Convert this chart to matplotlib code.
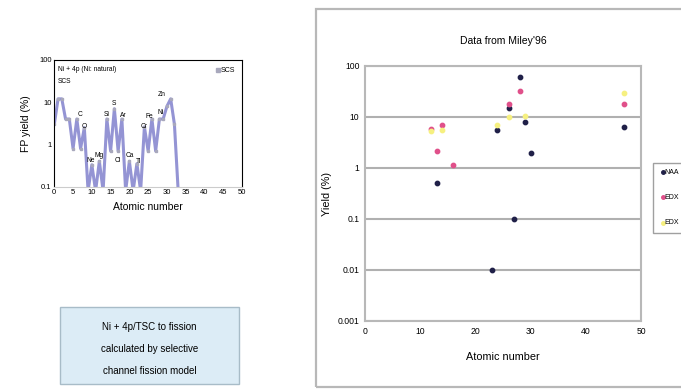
import numpy as np
import matplotlib
matplotlib.use('Agg')
import matplotlib.pyplot as plt
from matplotlib.patches import Rectangle
from matplotlib import rcParams
rcParams['font.family'] = 'Liberation Sans'

# left panel: SCS calculation (Ni + 4p)
scs_z = list(range(0, 34))
scs_y = [3, 12, 12, 4, 4, 0.8, 4, 0.8, 2.5, 0.08,
         0.33, 0.08, 0.4, 0.08, 4, 0.7, 7, 0.7, 4, 0.08,
         0.4, 0.08, 0.35, 0.08, 2.6, 0.7, 4, 0.7, 4, 4,
         8, 12, 3, 0.08]
el_names = ['C', 'O', 'Ne', 'Mg', 'Si', 'S', 'Ar', 'Cl', 'Ca', 'Ti', 'Cr', 'Fe', 'Ni', 'Zn']
el_x = [6.8, 8.0, 9.7, 11.9, 14.0, 16.0, 18.5, 17.0, 20.2, 22.5, 23.8, 25.2, 28.2, 28.5]
el_y = [5.0, 2.7, 0.41, 0.56, 5.1, 9.2, 4.9, 0.42, 0.54, 0.40, 2.7, 4.7, 5.7, 15]

# right panel: Miley'96 data
naa_z = [13, 23, 24, 26, 27, 28, 29, 30, 47]
naa_y = [0.5, 0.01, 5.5, 15, 0.1, 62, 8, 2, 6.5]
edx1_z = [12, 13, 14, 16, 26, 28, 47]
edx1_y = [5.8, 2.2, 7, 1.15, 18, 32, 18]
edx2_z = [12, 14, 24, 26, 29, 47]
edx2_y = [5.2, 5.5, 7, 10, 10.7, 30]

W, H = 681, 390
fig = plt.figure(figsize=(W / 100, H / 100), dpi=100)

def px(x0, y0, x1, y1):
    return [x0 / W, 1 - y1 / H, (x1 - x0) / W, (y1 - y0) / H]

# ---- left chart
ax1 = fig.add_axes(px(54.3, 60, 242, 186.7))
ax1.plot(scs_z, scs_y, '-s', color='#9494d4', lw=2.2, ms=1.8,
         mfc='#a8a8bc', mec='#a8a8bc', label='SCS')
ax1.set_yscale('log')
ax1.set_ylim(0.1, 100)
ax1.set_xlim(0, 50)
ax1.set_xticks(range(0, 51, 5))
ax1.set_yticks([0.1, 1, 10, 100])
ax1.set_yticklabels(['0.1', '1', '10', '100'])
ax1.minorticks_off()
ax1.tick_params(labelsize=5.5, length=0, pad=2)
for s in ax1.spines.values():
    s.set_linewidth(0.8)
ax1.spines['bottom'].set_color('#cccccc')
ax1.set_ylabel('FP yield (%)', fontsize=7.5, labelpad=6)
ax1.set_xlabel('Atomic number', fontsize=7.5, labelpad=4)
ax1.text(0.02, 0.95, 'Ni + 4p (Ni: natural)', transform=ax1.transAxes,
         fontsize=4.8, va='top')
ax1.text(0.02, 0.86, 'SCS', transform=ax1.transAxes, fontsize=4.8, va='top')
for n, x, y in zip(el_names, el_x, el_y):
    ax1.text(x, y, n, fontsize=4.8, ha='center', va='center')
leg1 = ax1.legend(loc='upper right', fontsize=5, frameon=False, handlelength=0.6,
                  handletextpad=0.1, borderaxespad=0.6, markerscale=1.6)
leg1.get_lines()[0].set_linestyle('none')

# ---- text box
fig.patches.append(Rectangle((60 / W, 1 - 384 / H), 179 / W, 77 / H,
                             transform=fig.transFigure, fc='#dcecf6',
                             ec='#a8bcc8', lw=1))
for txt, y in zip(['Ni + 4p/TSC to fission', 'calculated by selective',
                   'channel fission model'], [327, 349, 371]):
    fig.text(149.5 / W, 1 - y / H, txt, fontsize=7, ha='center', va='center')

# ---- right chart frame
fig.patches.append(Rectangle((316 / W, 1 - 387 / H), 380 / W, 378 / H,
                             transform=fig.transFigure, fc='none',
                             ec='#b8b8b8', lw=1.6, clip_on=False))

ax2 = fig.add_axes(px(365, 66, 641, 321))
ax2.scatter(naa_z, naa_y, s=10, color='#202048', label='NAA', zorder=3)
ax2.scatter(edx1_z, edx1_y, s=10, color='#e0508a', label='EDX', zorder=3)
ax2.scatter(edx2_z, edx2_y, s=10, color='#f6f080', label='EDX', zorder=3)
ax2.set_yscale('log')
ax2.set_ylim(0.001, 100)
ax2.set_xlim(0, 50)
ax2.set_xticks(range(0, 51, 10))
ax2.set_yticks([0.001, 0.01, 0.1, 1, 10, 100])
ax2.set_yticklabels(['0.001', '0.01', '0.1', '1', '10', '100'])
ax2.minorticks_off()
ax2.grid(axis='y', color='#b0b0b0', lw=1.5)
ax2.set_axisbelow(True)
ax2.tick_params(labelsize=6.2, length=0, pad=4)
for s in ax2.spines.values():
    s.set_color('#b8b8b8')
    s.set_linewidth(1.5)
ax2.set_title("Data from Miley'96", fontsize=7.5, pad=16)
ax2.set_ylabel('Yield (%)', fontsize=7.8, labelpad=4)
ax2.set_xlabel('Atomic number', fontsize=7.8, labelpad=12)
ax2.legend(loc='upper left', bbox_to_anchor=(653 / W, 1 - 163 / H),
           bbox_transform=fig.transFigure, fontsize=5, frameon=True,
           fancybox=False, edgecolor='#888888', handletextpad=-0.2,
           handlelength=1.0, borderpad=0.9, labelspacing=2.6, markerscale=0.8,
           borderaxespad=0)

fig.savefig('out.png', dpi=100)
